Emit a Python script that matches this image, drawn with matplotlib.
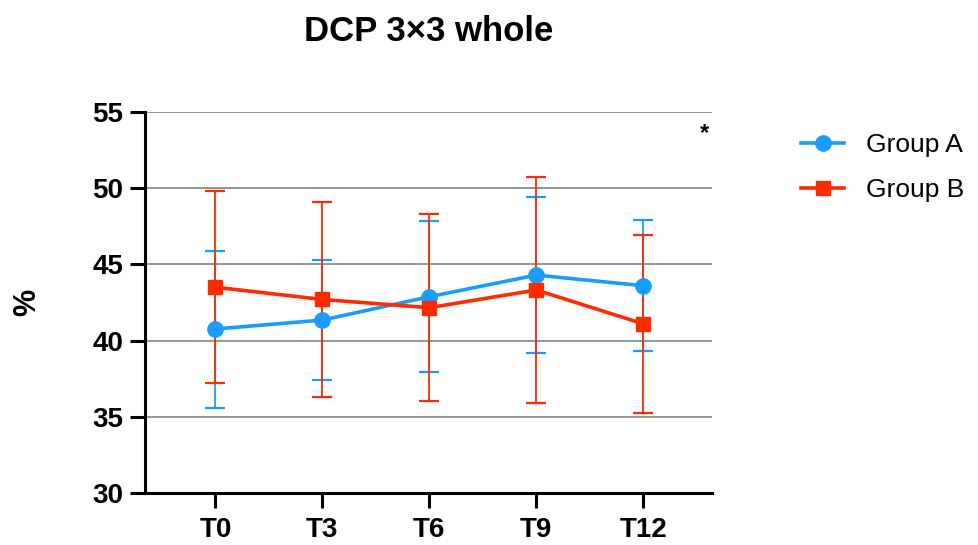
import numpy as np
import matplotlib
matplotlib.use('Agg')
import matplotlib.pyplot as plt
from matplotlib.lines import Line2D

plt.rcParams['font.family'] = ['Liberation Sans', 'DejaVu Sans']

timepoints = ['T0', 'T3', 'T6', 'T9', 'T12']
group_a = [40.76, 41.35, 42.88, 44.3, 43.6]
group_a_sd = [5.15, 3.93, 4.95, 5.13, 4.3]
group_b = [43.5, 42.7, 42.16, 43.32, 41.1]
group_b_sd = [6.3, 6.38, 6.15, 7.44, 5.84]

blue = '#1a9cff'
red = '#ff2a00'

fig = plt.figure(figsize=(9.79, 5.45), dpi=100)
ax = fig.add_axes([0.148, 0.0954, 0.579, 0.6991])

x = np.arange(len(timepoints))

# error bars first, then the lines on top
ax.errorbar(x, group_a, yerr=group_a_sd, fmt='none', ecolor=blue,
            elinewidth=1.3, capsize=7, capthick=1.6, zorder=3)
ax.errorbar(x, group_b, yerr=group_b_sd, fmt='none', ecolor=red,
            elinewidth=1.3, capsize=7, capthick=1.6, zorder=4)
ax.plot(x, group_a, color=blue, lw=2.6, marker='o', ms=11, zorder=5)
ax.plot(x, group_b, color=red, lw=2.6, marker='s', ms=10.5, zorder=6)

ax.set_xlim(-0.66, 4.64)
ax.set_ylim(30, 55)
ax.set_yticks([30, 35, 40, 45, 50, 55])
ax.set_xticks(x)
ax.set_xticklabels(timepoints)

for v in [35, 40, 45, 50, 55]:
    ax.axhline(v, color='#8c8c8c', lw=1.3, zorder=1)

for s in ['top', 'right']:
    ax.spines[s].set_visible(False)
for s in ['left', 'bottom']:
    ax.spines[s].set_linewidth(2.2)
    ax.spines[s].set_color('black')

ax.tick_params(axis='both', direction='out', width=2.2, length=10.5, labelsize=20)
ax.tick_params(axis='y', pad=5)
ax.tick_params(axis='x', pad=7)
for lab in ax.get_xticklabels() + ax.get_yticklabels():
    lab.set_fontweight('bold')

ax.set_ylabel('%', fontsize=22, fontweight='bold', labelpad=36)
ax.set_title('DCP 3\u00d73 whole', fontsize=25, fontweight='bold', pad=51)

ax.text(4.57, 53.6, '*', fontsize=17, fontweight='bold', ha='center', va='center')

handles = [Line2D([], [], color=blue, lw=2.6, marker='o', ms=11),
           Line2D([], [], color=red, lw=2.6, marker='s', ms=10.5)]
fig.legend(handles, ['Group A', 'Group B'], loc='upper left',
           bbox_to_anchor=(0.794, 0.799), frameon=False, fontsize=19,
           handlelength=1.63, handletextpad=0.83, labelspacing=0.78)

fig.savefig('out.png', dpi=100)
